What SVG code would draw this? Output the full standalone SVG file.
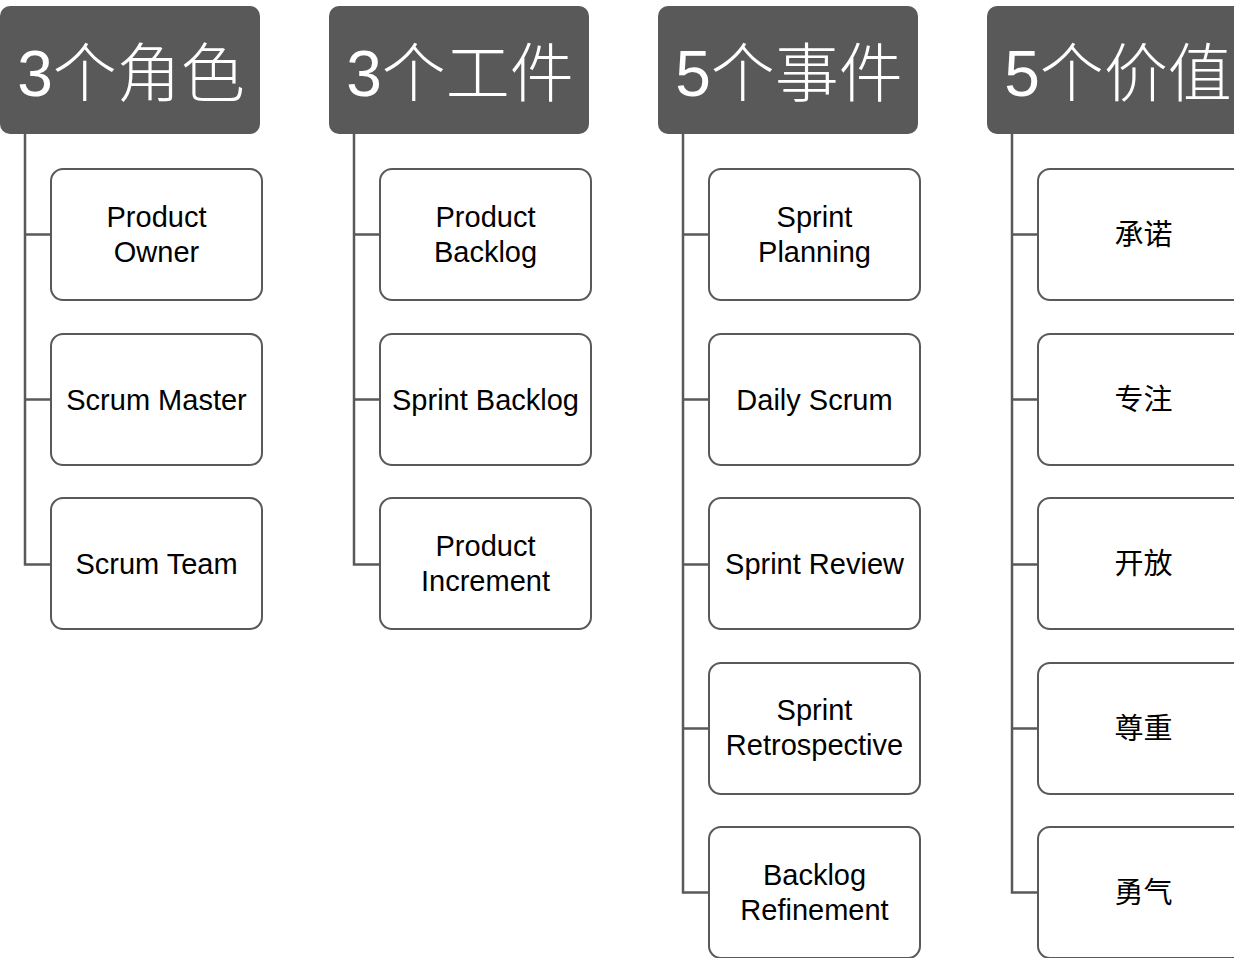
<svg xmlns="http://www.w3.org/2000/svg" width="1234" height="958" viewBox="0 0 1234 958">
<style>
.hdr{fill:#595959}
.ht{fill:#ffffff;font-family:"Liberation Sans","Noto Sans CJK SC",sans-serif;font-size:64px;font-weight:300;text-anchor:middle}
.box{fill:#ffffff;stroke:#595959;stroke-width:2}
.bt{fill:#000000;font-family:"Liberation Sans","Noto Sans CJK SC",sans-serif;font-size:29px;text-anchor:middle}
.con{fill:none;stroke:#595959;stroke-width:2.5}
</style>
<rect width="1234" height="958" fill="#ffffff"/>
<g id="connectors">
<path class="con" d="M25 134V564.5H51M25 234.5H51M25 399.5H51"/>
<path class="con" d="M354 134V564.5H380M354 234.5H380M354 399.5H380"/>
<path class="con" d="M683 134V892.5H709M683 234.5H709M683 399.5H709M683 564.5H709M683 728.5H709"/>
<path class="con" d="M1012 134V892.5H1038M1012 234.5H1038M1012 399.5H1038M1012 564.5H1038M1012 728.5H1038"/>
</g>
<g id="h1"><rect class="hdr" x="0" y="6" width="260" height="128" rx="10"/><text class="ht" x="131" y="96">3个角色</text></g>
<g id="h2"><rect class="hdr" x="329" y="6" width="260" height="128" rx="10"/><text class="ht" x="460" y="96">3个工件</text></g>
<g id="h3"><rect class="hdr" x="658" y="6" width="260" height="128" rx="10"/><text class="ht" x="789" y="96">5个事件</text></g>
<g id="h4"><rect class="hdr" x="987" y="6" width="260" height="128" rx="10"/><text class="ht" x="1118" y="96">5个价值</text></g>

<g id="n-po"><rect class="box" x="51" y="169" width="211" height="131" rx="12"/><text class="bt" x="156.5" y="227">Product</text><text class="bt" x="156.5" y="262">Owner</text></g>
<g id="n-sm"><rect class="box" x="51" y="334" width="211" height="131" rx="12"/><text class="bt" x="156.5" y="410">Scrum Master</text></g>
<g id="n-st"><rect class="box" x="51" y="498" width="211" height="131" rx="12"/><text class="bt" x="156.5" y="574">Scrum Team</text></g>

<g id="n-pb"><rect class="box" x="380" y="169" width="211" height="131" rx="12"/><text class="bt" x="485.5" y="227">Product</text><text class="bt" x="485.5" y="262">Backlog</text></g>
<g id="n-sb"><rect class="box" x="380" y="334" width="211" height="131" rx="12"/><text class="bt" x="485.5" y="410">Sprint Backlog</text></g>
<g id="n-pi"><rect class="box" x="380" y="498" width="211" height="131" rx="12"/><text class="bt" x="485.5" y="556">Product</text><text class="bt" x="485.5" y="591">Increment</text></g>

<g id="n-sp"><rect class="box" x="709" y="169" width="211" height="131" rx="12"/><text class="bt" x="814.5" y="227">Sprint</text><text class="bt" x="814.5" y="262">Planning</text></g>
<g id="n-ds"><rect class="box" x="709" y="334" width="211" height="131" rx="12"/><text class="bt" x="814.5" y="410">Daily Scrum</text></g>
<g id="n-sr"><rect class="box" x="709" y="498" width="211" height="131" rx="12"/><text class="bt" x="814.5" y="574">Sprint Review</text></g>
<g id="n-sre"><rect class="box" x="709" y="663" width="211" height="131" rx="12"/><text class="bt" x="814.5" y="720">Sprint</text><text class="bt" x="814.5" y="755">Retrospective</text></g>
<g id="n-br"><rect class="box" x="709" y="827" width="211" height="131" rx="12"/><text class="bt" x="814.5" y="885">Backlog</text><text class="bt" x="814.5" y="920">Refinement</text></g>

<g id="n-v1"><rect class="box" x="1038" y="169" width="211" height="131" rx="12"/><text class="bt" x="1143.5" y="245">承诺</text></g>
<g id="n-v2"><rect class="box" x="1038" y="334" width="211" height="131" rx="12"/><text class="bt" x="1143.5" y="410">专注</text></g>
<g id="n-v3"><rect class="box" x="1038" y="498" width="211" height="131" rx="12"/><text class="bt" x="1143.5" y="574">开放</text></g>
<g id="n-v4"><rect class="box" x="1038" y="663" width="211" height="131" rx="12"/><text class="bt" x="1143.5" y="739">尊重</text></g>
<g id="n-v5"><rect class="box" x="1038" y="827" width="211" height="131" rx="12"/><text class="bt" x="1143.5" y="903">勇气</text></g>
</svg>
